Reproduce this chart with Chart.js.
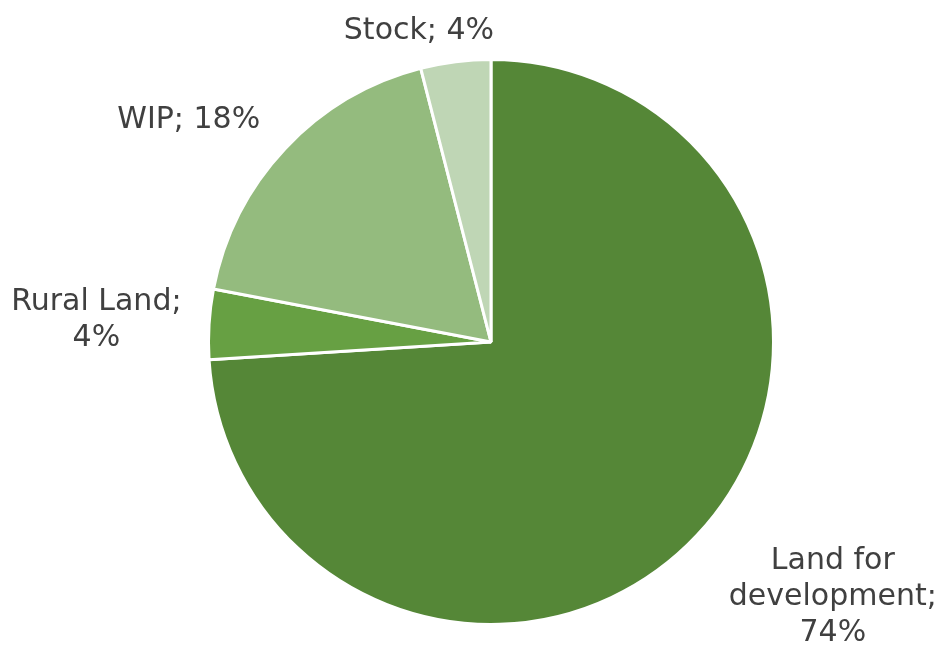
<!DOCTYPE html>
<html>
<head>
<meta charset="utf-8">
<script src="https://cdn.jsdelivr.net/npm/chart.js@4/dist/chart.umd.min.js"></script>
<style>
  html, body { margin: 0; padding: 0; background: #ffffff; }
  #wrap { width: 937px; height: 645px; }
</style>
</head>
<body>
<div id="wrap"><canvas id="pie" width="937" height="645"></canvas></div>
<script>
// Share of inventory by type (%)
const categories = ['Land for development', 'Rural Land', 'WIP', 'Stock'];
const shares = [74, 4, 18, 4];
// Label lines for each slice
const labelLines = [
  ['Land for', 'development;', '74%'],
  ['Rural Land;', '4%'],
  ['WIP; 18%'],
  ['Stock; 4%']
];
const sliceColors = ['#558737', '#67A043', '#94BB7E', '#BFD6B5'];

// Label anchor offsets, in units of the pie radius from its centre
const labelOffsets = [
  [1.21, 0.905],
  [-1.397, -0.078],
  [-1.07, -0.785],
  [-0.255, -1.10]
];

const outsideLabels = {
  id: 'outsideLabels',
  afterDatasetsDraw(chart) {
    const ctx = chart.ctx;
    const meta = chart.getDatasetMeta(0);
    ctx.save();
    ctx.fillStyle = '#404040';
    ctx.font = '30px "DejaVu Sans", Verdana, sans-serif';
    ctx.textAlign = 'center';
    ctx.textBaseline = 'middle';
    const lineH = 36;
    meta.data.forEach((arc, i) => {
      const r = arc.outerRadius;
      const cx = arc.x + labelOffsets[i][0] * r;
      const cy = arc.y + labelOffsets[i][1] * r;
      const lines = labelLines[i];
      const y0 = cy - (lines.length - 1) * lineH / 2;
      lines.forEach((t, k) => ctx.fillText(t, cx, y0 + k * lineH));
    });
    ctx.restore();
  }
};

new Chart(document.getElementById('pie'), {
  type: 'pie',
  data: {
    labels: categories,
    datasets: [{
      data: shares,
      backgroundColor: sliceColors,
      borderColor: '#ffffff',
      borderWidth: 3
    }]
  },
  options: {
    responsive: false,
    animation: false,
    layout: { padding: { top: 58, bottom: 19, left: 207, right: 162 } },
    plugins: {
      legend: { display: false },
      tooltip: { enabled: false }
    }
  },
  plugins: [outsideLabels]
});
</script>
</body>
</html>
